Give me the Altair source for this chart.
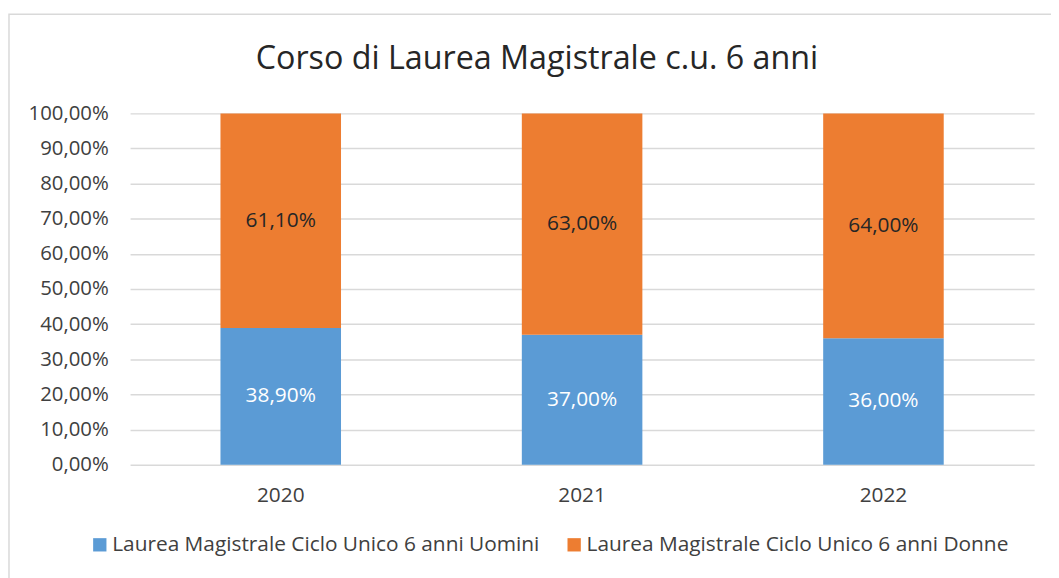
import altair as alt
import pandas as pd

years = ["2020", "2021", "2022"]
uomini = [38.9, 37.0, 36.0]
donne = [61.1, 63.0, 64.0]
series = ["Laurea Magistrale Ciclo Unico 6 anni Uomini", "Laurea Magistrale Ciclo Unico 6 anni Donne"]
colors = ["#5B9BD5", "#ED7D31"]
text_colors = ["#FFFFFF", "#262626"]
y_ticks = [0, 10, 20, 30, 40, 50, 60, 70, 80, 90, 100]

rows = []
for i, y in enumerate(years):
    rows.append({"anno": y, "serie": series[0], "val": uomini[i], "ord": 0, "tc": text_colors[0]})
    rows.append({"anno": y, "serie": series[1], "val": donne[i], "ord": 1, "tc": text_colors[1]})
df = pd.DataFrame(rows)

FONT = "Open Sans"
W, H = 911, 354

x_scale = alt.Scale(paddingInner=0.6, paddingOuter=0.3)
y_scale = alt.Scale(domain=[0, 100], nice=False)
x_axis = alt.Axis(labelAngle=0, domain=False, ticks=False, labelPadding=20,
                  labelFontSize=21, labelColor="#404040", labelFont=FONT)
y_axis = alt.Axis(values=y_ticks, domain=False, ticks=False,
                  labelPadding=22, labelFontSize=20.5, labelColor="#404040", labelFont=FONT,
                  labelOverlap=False, tickCount=11,
                  labelExpr="replace(format(datum.value, '.2f'), '.', ',') + '%'",
                  grid=True, gridColor="#D9D9D9", gridWidth=1.5)

base = alt.Chart(df)

bars = base.mark_bar().encode(
    x=alt.X("anno:N", title=None, scale=x_scale, axis=x_axis),
    y=alt.Y("val:Q", stack="zero", title=None, scale=y_scale, axis=y_axis),
    color=alt.Color("serie:N", scale=alt.Scale(domain=series, range=colors),
                    legend=alt.Legend(title=None, orient="none", direction="horizontal",
                                      legendX=-41, legendY=424, symbolType="square",
                                      symbolSize=180, symbolStrokeWidth=0, symbolOpacity=1,
                                      labelFontSize=21, labelColor="#404040", labelFont=FONT,
                                      labelLimit=0, columnPadding=24, labelOffset=2)),
    order=alt.Order("ord:Q"),
)

labels = base.transform_stack(
    stack="val", groupby=["anno"], as_=["v0", "v1"], sort=[alt.SortField("ord")]
).transform_calculate(
    mid="(datum.v0 + datum.v1) / 2",
    lab="replace(format(datum.val, '.2f'), '.', ',') + '%'",
).mark_text(fontSize=21, font=FONT).encode(
    x=alt.X("anno:N", title=None, scale=x_scale, axis=x_axis),
    y=alt.Y("mid:Q", title=None, scale=y_scale, axis=y_axis),
    text="lab:N",
    color=alt.Color("tc:N", scale=None),
)

border = alt.Chart(pd.DataFrame({"k": [0]})).mark_rect(
    fill="transparent", stroke="#D9D9D9", strokeWidth=1.5
).encode(
    x=alt.value(-122), x2=alt.value(W + 40),
    y=alt.value(-100), y2=alt.value(H + 200),
)

title = alt.Chart(pd.DataFrame({"t": ["Corso di Laurea Magistrale c.u. 6 anni"]})).mark_text(
    fontSize=32.5, font=FONT, color="#262626", baseline="middle", align="center"
).encode(x=alt.value(410), y=alt.value(-55), text="t:N")

chart = alt.layer(border, bars, labels, title).properties(
    width=W, height=H,
    autosize=alt.AutoSizeParams(type="none"),
    padding={"left": 123, "top": 104, "right": 17, "bottom": 112},
).configure_view(stroke=None)

chart.save("out.html", embed_options={"renderer": "svg", "actions": False})
